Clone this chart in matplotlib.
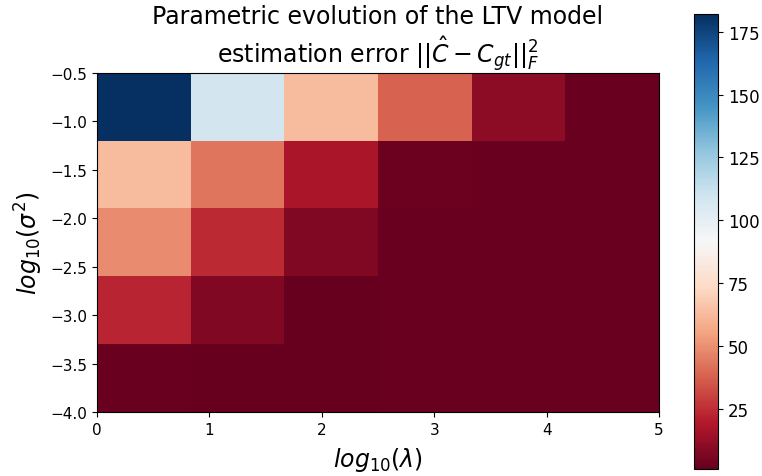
import numpy as np
import matplotlib
matplotlib.use("Agg")
import matplotlib.pyplot as plt

# grid axes (log10 values)
lambda_range = [0, 5]
sigma2_range = [-4.0, -0.5]

# estimation error, rows from top (sigma2 = -0.5) to bottom (sigma2 = -4)
row_1 = [182.0, 108.0, 63.0, 38.0, 11.0, 2.0]
row_2 = [63.0, 43.0, 18.0, 3.0, 2.2, 2.0]
row_3 = [49.0, 24.0, 8.0, 2.0, 2.0, 2.0]
row_4 = [23.0, 8.0, 1.2, 2.0, 2.0, 2.0]
row_5 = [2.5, 1.2, 1.8, 2.0, 2.0, 2.0]

err = np.array([row_1, row_2, row_3, row_4, row_5])

fig = plt.figure(figsize=(7.62, 4.77), dpi=100)
ax = fig.add_axes([97 / 762, 1 - 413 / 477, 562 / 762, 339 / 477])
cax = fig.add_axes([694 / 762, 1 - 470 / 477, 24 / 762, 455 / 477])

im = ax.imshow(err, cmap="RdBu", aspect="auto", interpolation="nearest",
               extent=[lambda_range[0], lambda_range[1], sigma2_range[0], sigma2_range[1]])

ax.set_xlabel(r"$log_{10}(\lambda)$", fontsize=17, labelpad=6)
ax.set_ylabel(r"$log_{10}(\sigma^2)$", fontsize=17)
ax.set_title("Parametric evolution of the LTV model\n"
             r"estimation error $||\hat{C} - C_{gt}||_F^2$", fontsize=17, pad=2)
ax.tick_params(labelsize=11)

cb = fig.colorbar(im, cax=cax)
cb.set_ticks([25, 50, 75, 100, 125, 150, 175])
cb.ax.tick_params(labelsize=12)

fig.savefig("out.png", dpi=100)
